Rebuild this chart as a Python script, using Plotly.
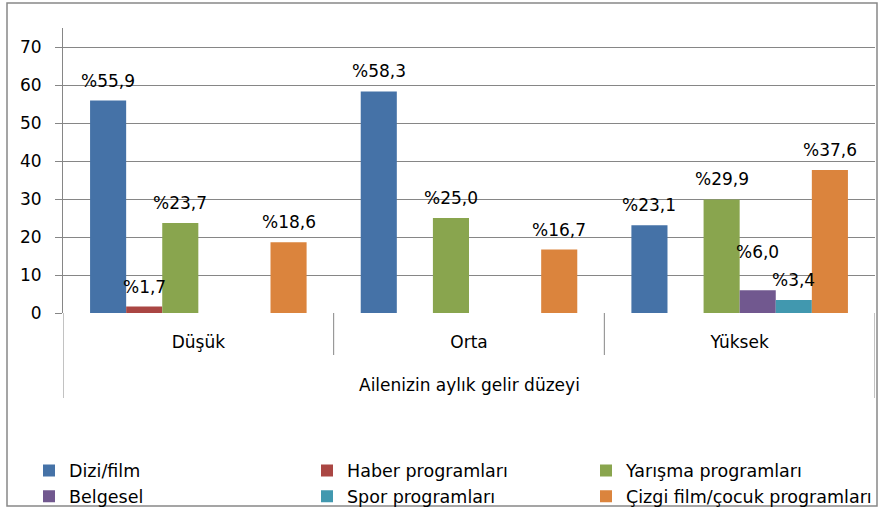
import plotly.graph_objects as go

categories = ["Düşük", "Orta", "Yüksek"]
series_names = ["Dizi/film", "Haber programları", "Yarışma programları",
                "Belgesel", "Spor programları", "Çizgi film/çocuk programları"]
dizi_film = [55.9, 58.3, 23.1]
haber = [1.7, 0, 0]
yarisma = [23.7, 25.0, 29.9]
belgesel = [0, 0, 6.0]
spor = [0, 0, 3.4]
cizgi = [18.6, 16.7, 37.6]
series_values = [dizi_film, haber, yarisma, belgesel, spor, cizgi]
y_ticks = [0, 10, 20, 30, 40, 50, 60, 70]
axis_title = "Ailenizin aylık gelir düzeyi"

colors = ["#4572A7", "#AA4643", "#89A54E", "#71588F", "#4198AF", "#DB843D"]
FONT = "DejaVu Sans"
FS = 17
LFS = 17.5
GRID = "#868686"
BARGAP = 0.2
LABEL_SHIFT = 8
# extra lift for a label that sits higher in the original (series index, category index)
LABEL_NUDGE = {(3, 2): 18}

W, H = 879, 509
ML, MR, MT, MB = 63, 4, 28, 196
PW = W - ML - MR
PH = H - MT - MB


def fmt(v):
    return "%" + f"{v:.1f}".replace(".", ",")


legend_ids = ["legend", "legend2", "legend3"]

fig = go.Figure()
n = len(series_names)
for i, (name, vals) in enumerate(zip(series_names, series_values)):
    fig.add_trace(go.Bar(
        x=categories, y=vals, name=name,
        marker=dict(color=colors[i], line=dict(width=0)),
        legend=legend_ids[i % 3],
        hoverinfo="skip",
    ))

# data labels
slot = (1 - BARGAP) / n
annotations = []
for i, vals in enumerate(series_values):
    for j, v in enumerate(vals):
        if v > 0:
            annotations.append(dict(
                x=j + (i - (n - 1) / 2) * slot, y=v, xref="x", yref="y",
                text=fmt(v), showarrow=False, yanchor="bottom",
                yshift=LABEL_SHIFT + LABEL_NUDGE.get((i, j), 0),
                font=dict(family=FONT, size=FS, color="#000000"),
            ))

annotations.append(dict(
    x=0.5, y=(313 - 385) / PH, xref="paper", yref="paper",
    text=axis_title, showarrow=False, yanchor="middle", xanchor="center",
    font=dict(family=FONT, size=FS, color="#000000"),
))

shapes = []
# category boundaries
for k in range(len(categories) + 1):
    outer = k == 0 or k == len(categories)
    shapes.append(dict(
        type="line", xref="x", yref="paper", x0=k - 0.5, x1=k - 0.5,
        y0=0, y1=-((398 - 313) if outer else (355 - 313)) / PH,
        line=dict(color=GRID, width=1),
    ))
# outer border
shapes.append(dict(
    type="rect", xref="paper", yref="paper",
    x0=(7 - ML) / PW, x1=(877 - ML) / PW,
    y0=(313 - 506) / PH, y1=(313 - 3) / PH,
    line=dict(color="#888888", width=1.5), fillcolor="rgba(0,0,0,0)",
))

legend_common = dict(
    orientation="v", xanchor="left", yanchor="middle",
    y=(313 - 483.5) / PH,
    font=dict(family=FONT, size=LFS, color="#000000"),
    bgcolor="rgba(0,0,0,0)", itemclick=False, itemdoubleclick=False,
    tracegroupgap=0,
)
legend_x = [29, 307, 586]

fig.update_layout(
    width=W, height=H,
    margin=dict(l=ML, r=MR, t=MT, b=MB, autoexpand=False),
    paper_bgcolor="#ffffff", plot_bgcolor="#ffffff",
    barmode="group", bargap=BARGAP, bargroupgap=0,
    font=dict(family=FONT, size=FS, color="#000000"),
    showlegend=True,
    legend=dict(x=(legend_x[0] - ML) / PW, **legend_common),
    legend2=dict(x=(legend_x[1] - ML) / PW, **legend_common),
    legend3=dict(x=(legend_x[2] - ML) / PW, **legend_common),
    xaxis=dict(
        type="category", range=[-0.5, len(categories) - 0.5],
        showgrid=False, showline=False, zeroline=False, ticks="",
        ticklabelstandoff=17,
        tickfont=dict(family=FONT, size=FS, color="#000000"),
    ),
    yaxis=dict(
        range=[0, 75], tickvals=y_ticks, ticktext=[str(t) for t in y_ticks],
        showgrid=True, gridcolor=GRID, gridwidth=1,
        showline=True, linecolor=GRID, linewidth=1,
        zeroline=False, ticks="outside", ticklen=7, tickcolor=GRID,
        ticklabelstandoff=10,
        tickfont=dict(family=FONT, size=FS, color="#000000"),
    ),
    annotations=annotations,
    shapes=shapes,
)

fig.write_html("out.html", config={"displayModeBar": False},
               post_script="document.body.style.margin='0';")
